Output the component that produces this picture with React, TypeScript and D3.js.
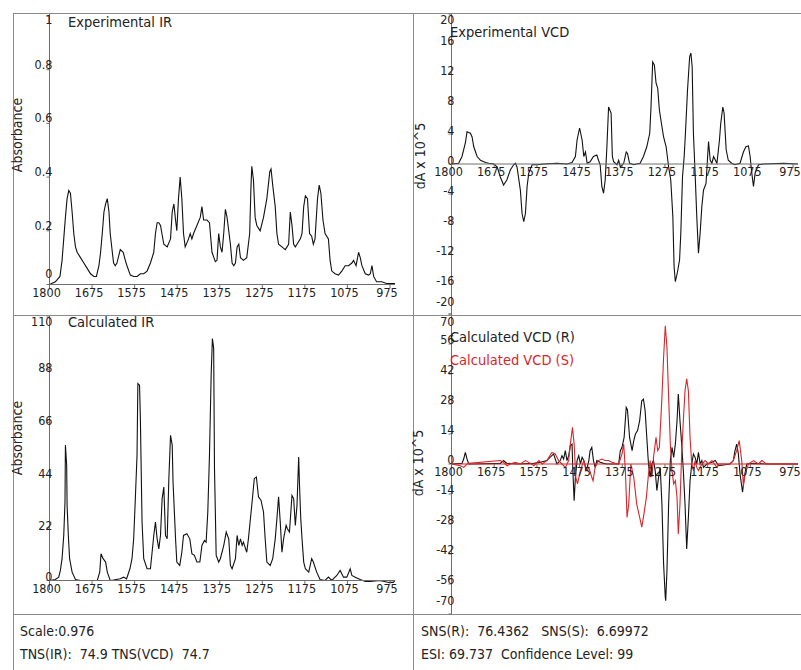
import React from 'react';
import * as d3 from 'd3';

const xTickLabels = ["1800", "1675", "1575", "1475", "1375", "1275", "1175", "1075", "975"];
const xDomain: [number, number] = [1800, 975];

const irExpTicks = [1, 0.8, 0.6, 0.4, 0.2, 0];
const irExpTickLabels = ["1", "0.8", "0.6", "0.4", "0.2", "0"];
const vcdExpTicks = [20, 16, 12, 8, 4, 0, -4, -8, -12, -16, -20];
const irCalcTicks = [110, 88, 66, 44, 22, 0];
const vcdCalcTicks = [70, 56, 42, 28, 14, 0, -14, -28, -42, -56, -70];

const titleExpIR = "Experimental IR";
const titleExpVCD = "Experimental VCD";
const titleCalcIR = "Calculated IR";
const titleCalcR = "Calculated VCD (R)";
const titleCalcS = "Calculated VCD (S)";
const footerLeft = ["Scale:0.976", "TNS(IR):  74.9 TNS(VCD)  74.7"];
const footerRight = ["SNS(R):  76.4362   SNS(S):  6.69972", "ESI: 69.737  Confidence Level: 99"];

// Experimental IR: [wavenumber, absorbance]
const expIR: [number, number][] = [
  [1800, 0], [1786, 0.01], [1775, 0.03], [1770, 0.09], [1766, 0.17], [1762, 0.25], [1758, 0.32], [1754, 0.35], [1750, 0.34],
  [1746, 0.27], [1742, 0.19], [1738, 0.14], [1734, 0.12], [1726, 0.1], [1718, 0.08], [1710, 0.06], [1702, 0.04], [1694, 0.03],
  [1688, 0.03], [1682, 0.07], [1678, 0.12], [1674, 0.19], [1670, 0.27], [1666, 0.3], [1662, 0.32], [1658, 0.27], [1655, 0.19],
  [1650, 0.12], [1647, 0.08], [1643, 0.07], [1639, 0.08], [1631, 0.13], [1624, 0.12], [1619, 0.09], [1615, 0.07], [1607, 0.035],
  [1599, 0.03], [1591, 0.03], [1583, 0.04], [1575, 0.04], [1567, 0.05], [1559, 0.08], [1551, 0.12], [1547, 0.19], [1543, 0.23],
  [1539, 0.23], [1535, 0.22], [1527, 0.15], [1519, 0.14], [1511, 0.17], [1507, 0.27], [1503, 0.3], [1499, 0.24], [1496, 0.2],
  [1492, 0.32], [1488, 0.4], [1484, 0.32], [1480, 0.19], [1476, 0.14], [1468, 0.17], [1464, 0.19], [1460, 0.17], [1456, 0.19],
  [1448, 0.22], [1440, 0.25], [1436, 0.29], [1432, 0.24], [1424, 0.24], [1418, 0.23], [1412, 0.12], [1404, 0.085], [1400, 0.09],
  [1396, 0.19], [1392, 0.14], [1388, 0.12], [1384, 0.19], [1380, 0.28], [1376, 0.25], [1368, 0.15], [1364, 0.08], [1360, 0.07],
  [1356, 0.08], [1352, 0.14], [1348, 0.15], [1344, 0.1], [1337, 0.09], [1329, 0.1], [1322, 0.19], [1319, 0.36], [1317, 0.44],
  [1313, 0.39], [1309, 0.25], [1305, 0.22], [1297, 0.2], [1289, 0.25], [1281, 0.32], [1274, 0.42], [1271, 0.43], [1267, 0.37],
  [1261, 0.29], [1257, 0.19], [1253, 0.15], [1245, 0.14], [1237, 0.13], [1229, 0.15], [1225, 0.27], [1221, 0.22], [1217, 0.15],
  [1213, 0.14], [1209, 0.15], [1201, 0.17], [1197, 0.19], [1193, 0.29], [1189, 0.33], [1184, 0.32], [1179, 0.19], [1174, 0.18],
  [1170, 0.15], [1166, 0.17], [1160, 0.32], [1156, 0.37], [1152, 0.34], [1147, 0.24], [1142, 0.19], [1134, 0.17], [1130, 0.09],
  [1126, 0.05], [1118, 0.04], [1110, 0.035], [1102, 0.05], [1094, 0.07], [1086, 0.07], [1078, 0.08], [1074, 0.09], [1068, 0.07],
  [1062, 0.12], [1058, 0.1], [1054, 0.07], [1046, 0.04], [1038, 0.035], [1034, 0.04], [1030, 0.07], [1026, 0.03], [1019, 0.01],
  [1007, 0.01], [995, 0.004], [983, 0.004], [975, 0.004],
];

// Experimental VCD: [wavenumber, dA x 10^5]
const expVCD: [number, number][] = [
  [1800, 0], [1783, 0.1], [1775, 1], [1767, 2.8], [1763, 4.3], [1755, 4.1], [1751, 3.6], [1747, 2.3], [1739, 1], [1731, 0.5],
  [1719, 0.2], [1711, 0.1], [1699, 0], [1691, -0.4], [1684, -1.7], [1676, -2.8], [1668, -2.1], [1660, -0.8], [1652, -0.1],
  [1648, 0.1], [1644, -0.4], [1636, -3.5], [1632, -6.6], [1628, -7.7], [1624, -6.6], [1620, -3], [1616, -1.2], [1608, -0.1],
  [1596, -0.1], [1580, 0], [1549, 0.1], [1525, 0], [1513, 0.2], [1505, 1], [1501, 3.2], [1495, 4.8], [1489, 3.2], [1485, 1],
  [1481, 1.6], [1477, 0.1], [1470, 0.3], [1462, 1], [1454, 1.2], [1450, 0.5], [1446, -0.1], [1442, -3], [1438, -3.9],
  [1434, -2.1], [1430, 2.3], [1426, 7.6], [1420, 6.8], [1417, 1], [1414, 0.3], [1406, -0.1], [1402, 0.5], [1398, -0.4],
  [1390, 0.1], [1384, 1.6], [1381, 1.4], [1376, 0.1], [1366, -0.1], [1359, 0], [1351, 0.1], [1343, 1], [1335, 2.3], [1328, 4.1],
  [1325, 7.6], [1321, 13.6], [1317, 13.2], [1313, 10.8], [1309, 10.1], [1305, 7.2], [1299, 5], [1295, 3.6], [1289, 2.3],
  [1283, -0.4], [1278, -2.1], [1273, -7], [1270, -13.7], [1267, -15.7], [1262, -14.4], [1257, -12.8], [1254, -9.2], [1250, -1.7],
  [1246, 1], [1243, 4.1], [1238, 9.9], [1233, 14.3], [1230, 14.8], [1227, 13], [1224, 4.1], [1220, -1.2], [1216, -7],
  [1212, -11.9], [1208, -9.2], [1204, -5.7], [1200, -3.5], [1194, -2.6], [1188, 3], [1184, 0.5], [1180, 0.1], [1176, 1],
  [1168, 0.1], [1162, 3.2], [1159, 5.4], [1154, 7.6], [1151, 6.8], [1146, 1.9], [1141, 0.5], [1133, 0.1], [1125, -0.1],
  [1113, 0.1], [1105, 1.6], [1099, 2.3], [1093, 2.4], [1089, 1], [1085, -1.2], [1081, -3], [1077, -1.2], [1069, -0.1],
  [1057, 0], [1010, 0.1], [975, 0],
];

// Calculated IR: [wavenumber, absorbance]
const calcIR: [number, number][] = [
  [1800, 0], [1786, 0.4], [1778, 1.4], [1774, 4.2], [1770, 9.1], [1766, 18.8], [1763, 32.8], [1762, 56.5], [1759, 48.1],
  [1758, 31.4], [1755, 18.8], [1752, 9.1], [1746, 3.5], [1738, 0.4], [1726, 0], [1686, 0], [1680, 3.5], [1677, 11.2],
  [1672, 9.1], [1666, 7.7], [1662, 3.5], [1655, 0], [1647, 0.2], [1631, 0.7], [1623, 1.4], [1616, 0.7], [1608, 4.9],
  [1603, 9.1], [1599, 17.4], [1595, 34.2], [1591, 52.3], [1589, 82.2], [1585, 81.5], [1583, 67.6], [1579, 24.4], [1575, 9.1],
  [1567, 4.9], [1559, 4.9], [1555, 11.8], [1551, 18.8], [1547, 24.4], [1543, 17.4], [1539, 13.2], [1535, 18.8], [1531, 34.2],
  [1527, 39], [1523, 18.8], [1519, 17.4], [1515, 42.5], [1511, 60.6], [1507, 56.5], [1505, 41.1], [1499, 17.4], [1496, 7.7],
  [1489, 6.3], [1484, 11.8], [1480, 18.8], [1472, 19.5], [1465, 17.4], [1460, 11.2], [1454, 10.5], [1448, 7.7], [1441, 7.7],
  [1436, 14.6], [1430, 16.7], [1426, 16], [1422, 28.6], [1418, 52.3], [1414, 85.7], [1411, 101], [1408, 96.9], [1406, 46.7],
  [1402, 10.5], [1396, 7.7], [1392, 9.1], [1384, 14.6], [1378, 20.2], [1372, 17.4], [1368, 6.3], [1364, 4.9], [1356, 9.1],
  [1352, 18.8], [1348, 14.6], [1344, 17.4], [1340, 14.6], [1337, 16], [1329, 11.8], [1325, 17.4], [1321, 24.4], [1317, 31.4],
  [1311, 42.5], [1306, 43.2], [1301, 34.9], [1295, 33.5], [1289, 28.6], [1285, 17.4], [1281, 7.7], [1273, 6.3], [1267, 9.1],
  [1261, 17.4], [1257, 25.8], [1253, 34.9], [1249, 24.4], [1245, 11.8], [1241, 17.4], [1235, 23], [1232, 21.6], [1227, 20.2],
  [1221, 35.5], [1217, 34.2], [1213, 23], [1209, 31.4], [1205, 51.6], [1203, 39.7], [1200, 25.8], [1197, 17.4], [1193, 7.7],
  [1189, 4.9], [1181, 3.5], [1174, 9.1], [1170, 7.7], [1162, 3.5], [1154, 0.4], [1142, 0], [1134, 1.4], [1126, 0],
  [1114, 2.1], [1106, 4.2], [1098, 1.4], [1090, 1.4], [1082, 4.9], [1078, 2.1], [1070, 1.4], [1058, 0.4], [1046, -0.4],
  [1034, -0.4], [1011, 0], [990, -0.8], [979, -0.8], [975, 0],
];

// Calculated VCD, R configuration: [wavenumber, dA x 10^5]
const calcVCDR: [number, number][] = [
  [1800, 0], [1775, 0.3], [1771, 2.3], [1767, 5.4], [1763, 2.3], [1759, 0], [1751, 0], [1684, 0.3], [1676, 1.6], [1668, 0.3],
  [1644, 0], [1604, 0.3], [1588, 0.8], [1573, 1.6], [1557, 4.7], [1549, 0], [1541, 1.6], [1537, 3.9], [1533, 2.3], [1529, 6.2],
  [1525, 1.6], [1521, 3.9], [1517, 8.6], [1513, 9.3], [1511, -3.1], [1508, -17.1], [1505, -6.2], [1501, 1.6], [1497, 3.9],
  [1493, 0], [1489, 3.1], [1485, 1.6], [1479, -3.1], [1473, 1.6], [1470, 6.2], [1466, 7.8], [1462, 1.6], [1458, -1.6],
  [1454, 1.6], [1446, 0.8], [1438, 0.3], [1430, 0], [1402, 0], [1398, 6.2], [1394, 7.8], [1389, 12.4], [1384, 26.4],
  [1381, 25.2], [1376, 12.4], [1370, 6.2], [1366, 10.9], [1362, 14], [1357, 15.6], [1352, 20.2], [1347, 29.5], [1343, 30.3],
  [1339, 24.9], [1335, 12.4], [1331, 0], [1327, -6.2], [1323, 0], [1319, 1.6], [1315, -3.1], [1311, -12.4], [1307, -6.2],
  [1303, -1.6], [1299, -18.7], [1295, -46.7], [1291, -62.2], [1290, -63.8], [1287, -49.8], [1283, -18.7], [1279, 1.6],
  [1275, 7.8], [1271, 3.1], [1267, 9.3], [1263, 20.2], [1260, 32.7], [1256, 20.2], [1252, 9.3], [1248, -3.1], [1244, -18.7],
  [1240, -39.7], [1236, -24.9], [1232, -7.8], [1228, 0], [1224, 4.7], [1220, 3.1], [1216, 0], [1212, 5.4], [1208, 0],
  [1204, 1.6], [1200, -1.6], [1192, 0], [1180, 0.8], [1172, 1.6], [1164, -0.8], [1137, 0], [1133, 0.8], [1129, 1.6],
  [1125, 6.2], [1121, 9.3], [1117, 4.7], [1113, -4.7], [1107, -13.2], [1103, -6.2], [1097, 0], [1081, 0.3], [1050, 0], [975, 0],
];

// Calculated VCD, S configuration: [wavenumber, dA x 10^5]
const calcVCDS: [number, number][] = [
  [1800, 0], [1779, -0.8], [1771, -1.6], [1763, 0], [1759, 0.3], [1684, 1.6], [1676, 0.8], [1668, -0.8], [1660, 0],
  [1648, 0.8], [1636, 0], [1624, 1.6], [1612, 0.3], [1604, -0.8], [1592, 1.6], [1584, 0], [1573, 1.6], [1561, 5.4],
  [1553, 4.7], [1545, 1.6], [1537, 0], [1529, -1.6], [1521, 1.6], [1517, 9.3], [1512, 17.1], [1508, 9.3], [1504, -6.2],
  [1500, -9.3], [1493, -3.1], [1485, 1.6], [1481, -1.6], [1477, -3.1], [1473, -1.6], [1466, -6.2], [1463, -7.8], [1458, -1.6],
  [1450, 1.6], [1442, 2.3], [1434, 1.6], [1426, 1.6], [1418, 0.8], [1410, 0.3], [1402, 0], [1394, 4.7], [1390, 9.3],
  [1386, -3.1], [1382, -24.9], [1378, -18.7], [1373, 0], [1366, -6.2], [1359, -18.7], [1352, -24.9], [1347, -29.5],
  [1343, -24.9], [1336, -15.6], [1331, -4.7], [1327, 1.6], [1323, -6.2], [1319, 3.1], [1313, 12.4], [1309, 6.2], [1305, 7.8],
  [1299, 31.1], [1295, 49.8], [1291, 64.5], [1287, 54.4], [1283, 31.1], [1279, 9.3], [1275, -3.1], [1271, -9.3], [1267, -7.8],
  [1263, -15.6], [1260, -32.7], [1256, -18.7], [1252, 4.7], [1248, 20.2], [1244, 34.2], [1240, 39.7], [1236, 34.2],
  [1232, 12.4], [1228, 0], [1224, -3.1], [1220, 1.6], [1216, -1.6], [1212, -3.1], [1204, 0], [1196, 1.6], [1188, 0],
  [1180, 1.6], [1168, -1.6], [1164, 0], [1137, 0], [1129, 1.6], [1121, 6.2], [1115, 10.9], [1109, 1.6], [1105, -10.1],
  [1101, -4.7], [1093, 0], [1081, 1.6], [1069, 0], [1061, 1.6], [1050, 0], [975, 0],
];

const FONT = "'DejaVu Sans Condensed', 'DejaVu Sans', sans-serif";
const TEXT = '#222';
const FRAME = '#8a8a8a';
const AXIS = '#6e6e6e';
const RED = '#d8262b';

type Series = { data: [number, number][]; color: string };
type Title = { text: string; color: string };

interface PanelProps {
  x0: number; x1: number;
  yTop: number; yBot: number;
  axisTop: number; axisBot: number;
  yDomain: [number, number];
  ticks: number[]; tickLabels?: string[];
  labelDy: number;
  series: Series[];
  titles: Title[]; titleX: number; titleY: number;
  yLabel: string; yLabelX: number; yLabelY: number;
  xAxisColor?: string;
}

function Panel(p: PanelProps) {
  const x = d3.scaleLinear().domain(xDomain).range([p.x0, p.x1]);
  const y = d3.scaleLinear().domain(p.yDomain).range([p.yBot, p.yTop]);
  const labelPos = d3.scalePoint<string>().domain(xTickLabels).range([p.x0 - 3, p.x1 - 8]);
  const line = d3.line<[number, number]>().x(d => x(d[0])).y(d => y(d[1]));
  const y0 = y(0);
  const clampY = (v: number) => Math.min(Math.max(v, p.axisTop + 10), p.axisBot - 9);
  return (
    <g fontFamily={FONT} fill={TEXT}>
      <line x1={p.x0} x2={p.x0} y1={p.axisTop} y2={p.axisBot} stroke={AXIS} strokeWidth={1} />
      {p.ticks.map((t, i) => (
        <g key={i}>
          <line x1={p.x0 - 3} x2={p.x0} y1={y(t)} y2={y(t)} stroke={AXIS} />
          <text x={p.x0 + 3} y={clampY(y(t) + p.labelDy)} textAnchor="end" fontSize={12.5}>
            {p.tickLabels ? p.tickLabels[i] : String(t)}
          </text>
        </g>
      ))}
      {p.series.map((s, i) => (
        <path key={i} d={line(s.data) || ''} fill="none" stroke={s.color} strokeWidth={1.1} />
      ))}
      <line x1={p.x0} x2={p.x1} y1={y0} y2={y0} stroke={p.xAxisColor || AXIS} strokeWidth={1} />
      {xTickLabels.map(l => (
        <g key={l}>
          <line x1={(labelPos(l) || 0) + 3} x2={(labelPos(l) || 0) + 3} y1={y0} y2={y0 + 4} stroke={AXIS} />
          <text x={labelPos(l)} y={y0 + 12} textAnchor="middle" fontSize={12.5}>{l}</text>
        </g>
      ))}
      {p.titles.map((t, i) => (
        <text key={i} x={p.titleX} y={p.titleY + i * 23} fontSize={14.5} fill={t.color}>{t.text}</text>
      ))}
      <text transform={`translate(${p.yLabelX},${p.yLabelY}) rotate(-90)`} textAnchor="middle" dominantBaseline="middle" fontSize={14}>
        {p.yLabel}
      </text>
    </g>
  );
}

export default function App() {
  const W = 801, H = 670;
  return (
    <svg width={W} height={H} style={{ position: 'absolute', left: 0, top: 0, background: '#fff' }}>
      <rect x={0} y={0} width={W} height={H} fill="#fff" />
      <g stroke={FRAME} strokeWidth={1}>
        <line x1={13} x2={W} y1={13.5} y2={13.5} />
        <line x1={13.5} x2={13.5} y1={13} y2={H} />
        <line x1={413.5} x2={413.5} y1={13} y2={H} />
        <line x1={13} x2={W} y1={315.5} y2={315.5} />
        <line x1={13} x2={W} y1={614.5} y2={614.5} />
      </g>
      <Panel x0={49.5} x1={395} yTop={16} yBot={284.5} axisTop={14} axisBot={287}
        yDomain={[0, 1]} ticks={irExpTicks} tickLabels={irExpTickLabels} labelDy={-1}
        series={[{ data: expIR, color: '#111' }]}
        titles={[{ text: titleExpIR, color: TEXT }]} titleX={68} titleY={27}
        yLabel="Absorbance" yLabelX={18} yLabelY={135} />
      <Panel x0={451.5} x1={798} yTop={14} yBot={314} axisTop={14} axisBot={315}
        yDomain={[-20, 20]} ticks={vcdExpTicks} labelDy={0.5}
        series={[{ data: expVCD, color: '#111' }]}
        titles={[{ text: titleExpVCD, color: TEXT }]} titleX={450} titleY={37}
        yLabel="dA x 10^5" yLabelX={421} yLabelY={156} />
      <Panel x0={49.5} x1={395} yTop={317} yBot={580.5} axisTop={316} axisBot={590}
        yDomain={[0, 110]} ticks={irCalcTicks} labelDy={2.5}
        series={[{ data: calcIR, color: '#111' }]}
        titles={[{ text: titleCalcIR, color: TEXT }]} titleX={68} titleY={327}
        yLabel="Absorbance" yLabelX={18} yLabelY={438} />
      <Panel x0={451.5} x1={798} yTop={314} yBot={614} axisTop={316} axisBot={614}
        yDomain={[-70, 70]} ticks={vcdCalcTicks} labelDy={0}
        series={[{ data: calcVCDR, color: '#111' }, { data: calcVCDS, color: RED }]}
        titles={[{ text: titleCalcR, color: TEXT }, { text: titleCalcS, color: RED }]} titleX={450} titleY={342}
        yLabel="dA x 10^5" yLabelX={419} yLabelY={463} xAxisColor={RED} />
      <g fontFamily={FONT} fontSize={14} fill={TEXT}>
        <text x={20} y={636} xmlSpace="preserve">{footerLeft[0]}</text>
        <text x={20} y={659} xmlSpace="preserve">{footerLeft[1]}</text>
        <text x={421} y={636} xmlSpace="preserve">{footerRight[0]}</text>
        <text x={421} y={659} xmlSpace="preserve">{footerRight[1]}</text>
      </g>
    </svg>
  );
}
